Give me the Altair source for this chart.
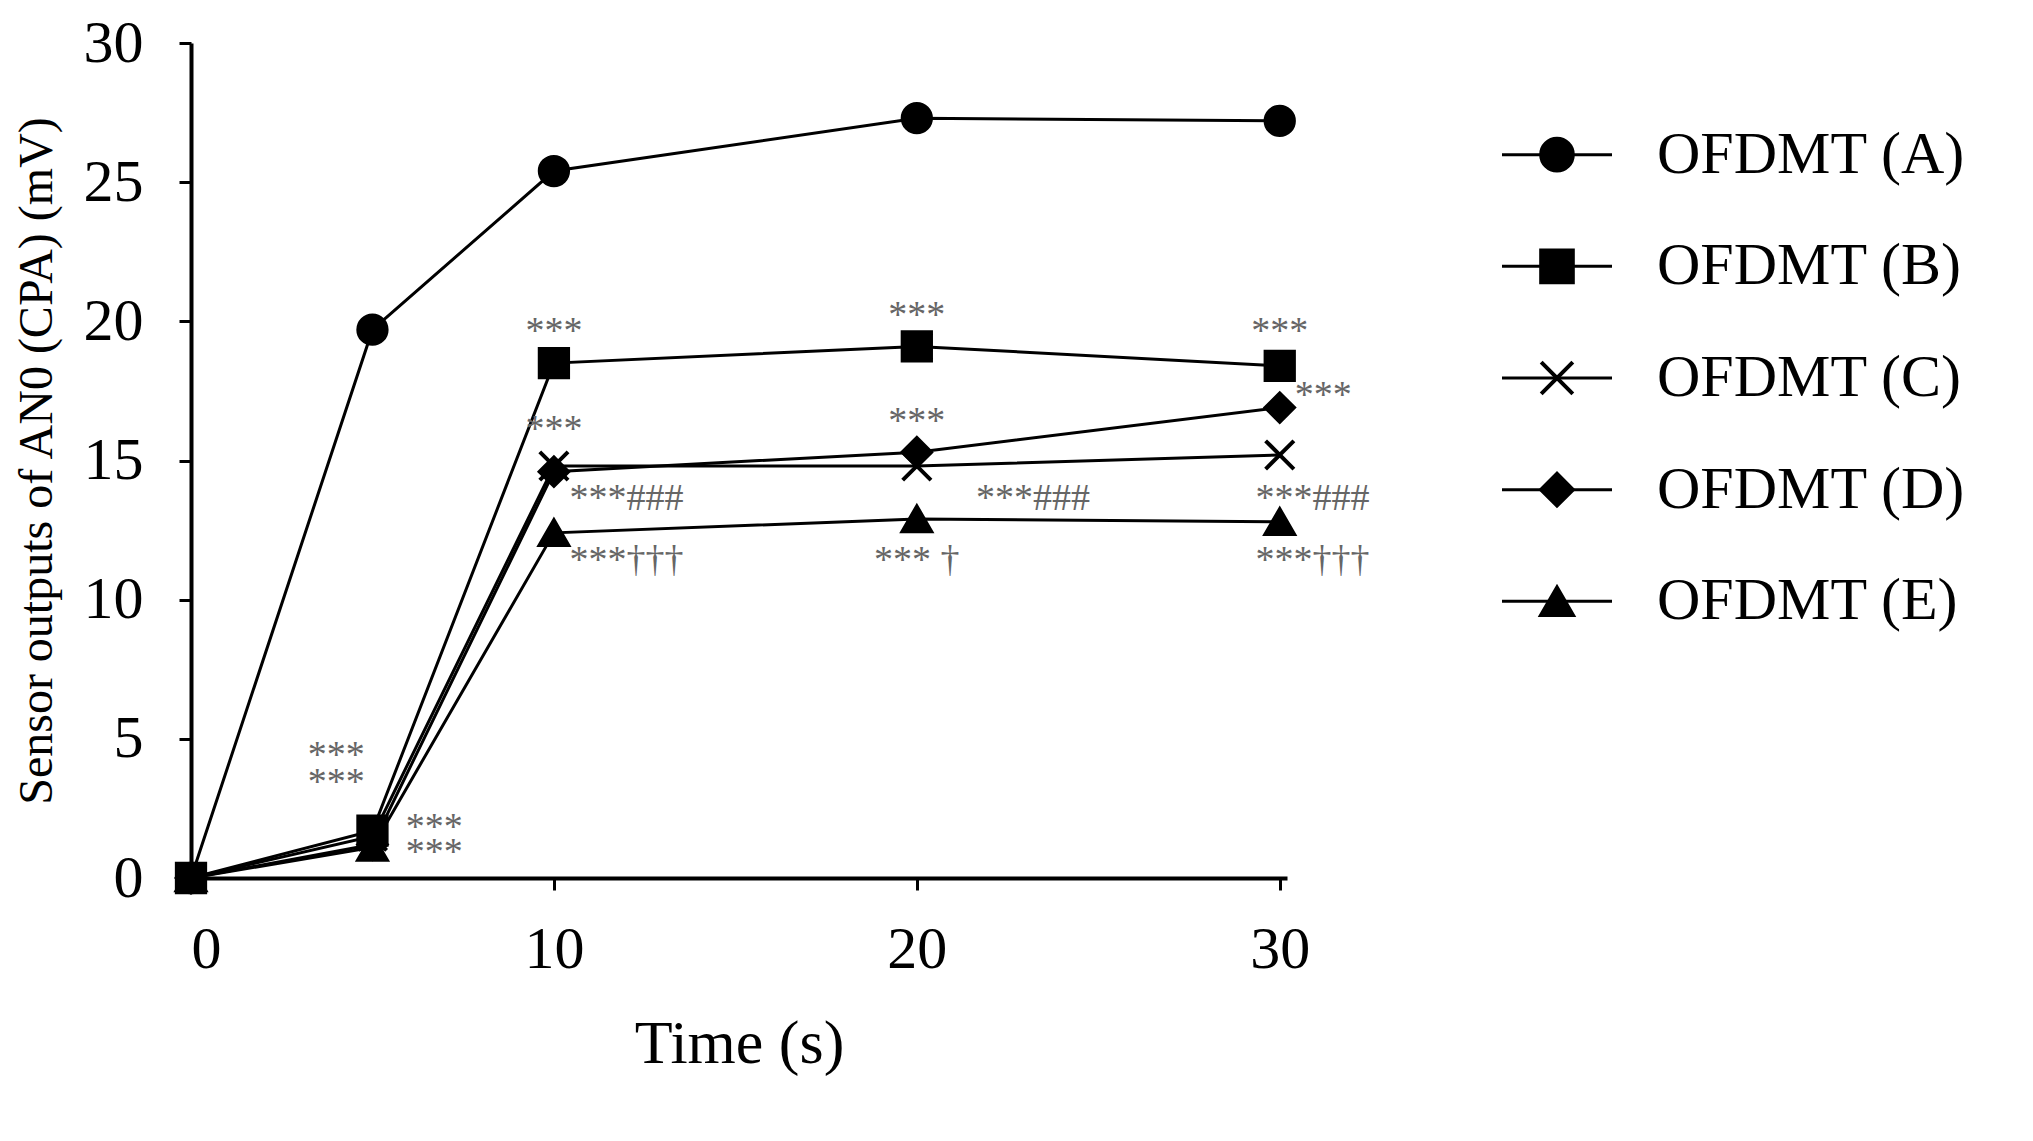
import altair as alt
import pandas as pd

times = [0, 5, 10, 20, 30]
series = ["OFDMT (A)", "OFDMT (B)", "OFDMT (C)", "OFDMT (D)", "OFDMT (E)"]
vals_a = [0, 19.7, 25.4, 27.3, 27.2]
vals_b = [0, 1.7, 18.5, 19.1, 18.4]
vals_c = [0, 1.5, 14.8, 14.8, 15.2]
vals_d = [0, 1.2, 14.6, 15.3, 16.9]
vals_e = [0, 1.1, 12.4, 12.9, 12.8]
xshape = "M-1,-1L1,1M-1,1L1,-1"
shapes = ["circle", "square", xshape, "diamond", "triangle-up"]

# significance labels
note_x = [10, 20, 30, 10, 20, 31.2, 4.0, 4.0, 6.7, 6.7, 12.0, 23.2, 30.9, 12.0, 20.0, 30.9]
note_y = [19.6, 20.2, 19.6, 16.1, 16.4, 17.3, 4.4, 3.4, 1.8, 0.9, 13.6, 13.6, 13.6, 11.4, 11.4, 11.4]
note_t = ["***", "***", "***", "***", "***", "***", "***", "***", "***", "***",
          "***###", "***###", "***###", "***†††", "*** †", "***†††"]

rows = []
for name, vals in zip(series, [vals_a, vals_b, vals_c, vals_d, vals_e]):
    for t, v in zip(times, vals):
        rows.append({"series": name, "time": t, "value": v})
df = pd.DataFrame(rows)
notes = pd.DataFrame({"x": note_x, "y": note_y, "t": note_t})

font = "Liberation Serif"
xs = alt.Scale(domain=[0, 30.2], nice=False)
ys = alt.Scale(domain=[0, 30], nice=False)
shape_scale = alt.Scale(domain=series, range=shapes)

axis_style = dict(grid=False, tickSize=12, tickWidth=3, domainWidth=4, domainColor="black",
                  tickColor="black", labelFont=font, titleFont=font, labelColor="black",
                  titleColor="black", titleFontWeight="normal")

lines = alt.Chart(df).mark_line(color="black", strokeWidth=3).encode(
    x=alt.X("time:Q", scale=xs, title="Time (s)",
            axis=alt.Axis(values=[0, 10, 20, 30], labelFontSize=60, titleFontSize=62,
                          labelPadding=30, titlePadding=34, **axis_style)),
    y=alt.Y("value:Q", scale=ys, title="Sensor outputs of AN0 (CPA) (mV)",
            axis=alt.Axis(values=[0, 5, 10, 15, 20, 25, 30], labelFontSize=60, titleFontSize=48,
                          labelPadding=36, titlePadding=22, **axis_style)),
    detail="series:N",
)
pts = alt.Chart(df).mark_point(filled=True, color="black", stroke="black", strokeWidth=4,
                               size=800, opacity=1).encode(
    x="time:Q", y="value:Q",
    shape=alt.Shape("series:N", scale=shape_scale, legend=None),
)
txt = alt.Chart(notes).mark_text(font=font, fontSize=38, color="#666666").encode(
    x="x:Q", y="y:Q", text="t:N")

plot = (lines + pts + txt).properties(width=1096, height=835)

leg = pd.DataFrame({"series": series, "rank": list(range(5))})
ly = alt.Y("rank:O", axis=None, scale=alt.Scale(paddingOuter=0.5))
leg_line = alt.Chart(leg).mark_rule(color="black", strokeWidth=3).encode(
    x=alt.value(0), x2=alt.value(110), y=ly)
leg_pt = alt.Chart(leg).mark_point(filled=True, color="black", stroke="black", strokeWidth=4,
                                   size=1000, opacity=1).encode(
    x=alt.value(55), y=ly, shape=alt.Shape("series:N", scale=shape_scale, legend=None))
leg_txt = alt.Chart(leg).mark_text(font=font, fontSize=60, align="left", color="black").encode(
    x=alt.value(155), y=ly, text="series:N")
legend = (leg_line + leg_pt + leg_txt).properties(width=430, height=670)

chart = alt.hconcat(plot, legend, spacing=130).configure_view(stroke=None).properties(
    background="white")
chart.save("out.html", embed_options={"renderer": "svg", "actions": False})
